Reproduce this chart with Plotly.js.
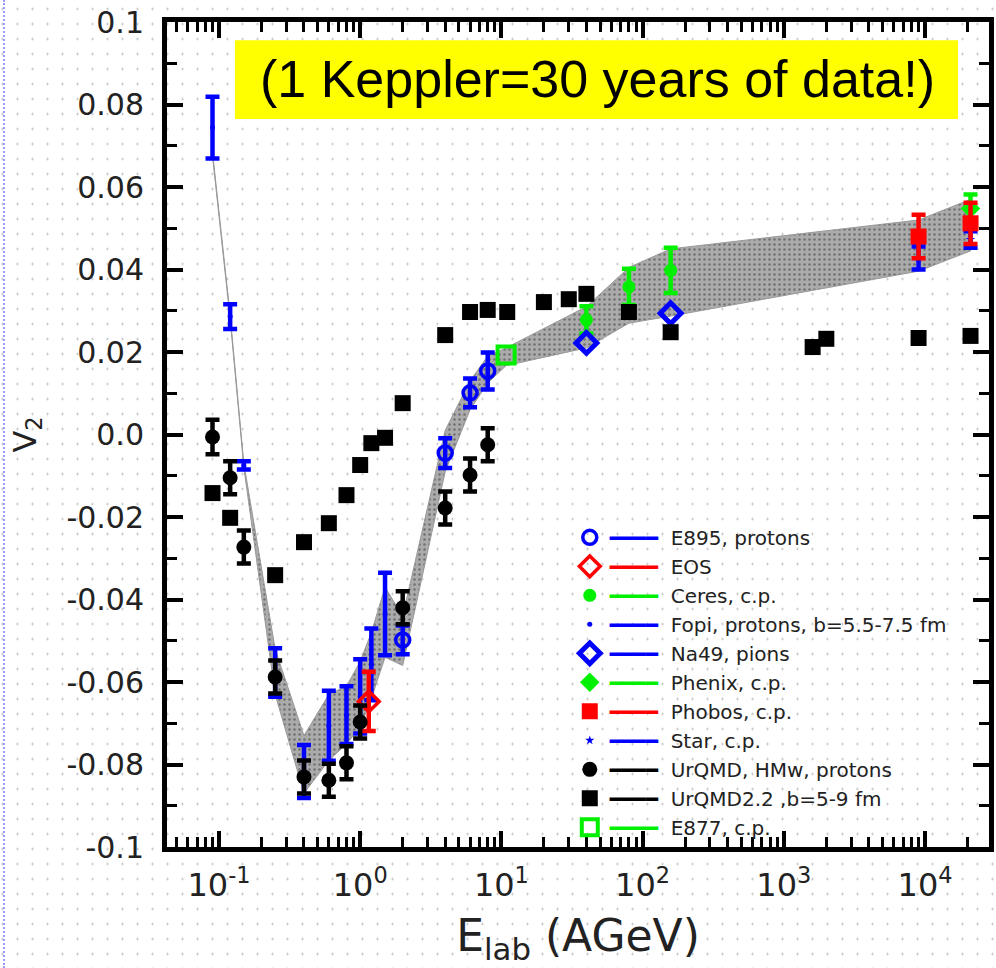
<!DOCTYPE html>
<html>
<head>
<meta charset="utf-8">
<script src="https://cdn.plot.ly/plotly-3.0.1.min.js"></script>
<style>
  html, body { margin:0; padding:0; width:996px; height:968px; overflow:hidden; background:#fff; }
  body {
    background-image: radial-gradient(circle, #c4c4c4 0.9px, rgba(255,255,255,0) 1.3px);
    background-size: 15px 15px;
    background-position: -5px 1.5px;
  }
  #edge { position:absolute; left:3px; top:0; width:0; height:968px; border-left:2px dotted #9a9aff; }
  #chart { position:absolute; left:0; top:0; width:996px; height:968px; }
</style>
</head>
<body>
<div id="edge"></div>
<div id="chart"></div>
<script>
// ---------------- data ----------------
// Gray band (upper and lower edge)
const band_x  = [0.09, 0.12, 0.15, 0.25, 0.4, 0.6, 0.8, 1.0, 1.2, 1.5, 2.0, 4.0, 6.0, 8.0, 10.8, 40, 80, 158, 9000, 21000];
const band_hi = [0.0685, 0.029, -0.007, -0.052, -0.073, -0.063, -0.061, -0.055, -0.048, -0.037, -0.044, 0.001, 0.013, 0.019, 0.021, 0.031, 0.0405, 0.045, 0.052, 0.057];
const band_lo = [0.0675, 0.028, -0.008, -0.063, -0.087, -0.079, -0.075, -0.071, -0.064, -0.054, -0.056, -0.009, 0.006, 0.0125, 0.0167, 0.021, 0.027, 0.0287, 0.0396, 0.0445];

// E895, protons
const e895_x = [2.0, 4.0, 6.0, 8.0];
const e895_y = [-0.0498, -0.0045, 0.0101, 0.0154];
const e895_err = [0.0035, 0.0036, 0.0035, 0.0045];
// EOS
const eos_x = [1.15];
const eos_y = [-0.0647];
const eos_err = [0.0072];
// Ceres, c.p.
const ceres_x = [40, 80, 158];
const ceres_y = [0.0278, 0.0358, 0.0398];
const ceres_err = [0.0033, 0.0044, 0.0055];
// Fopi, protons, b=5.5-7.5 fm
const fopi_x = [0.09, 0.12, 0.15, 0.25, 0.4, 0.6, 0.8, 1.0, 1.2, 1.5];
const fopi_y = [0.0744, 0.0286, -0.0075, -0.0577, -0.0817, -0.0706, -0.068, -0.0635, -0.0557, -0.0435];
const fopi_err = [0.0075, 0.003, 0.001, 0.0059, 0.0064, 0.0085, 0.007, 0.009, 0.0087, 0.01];
// Na49, pions
const na49_x = [40, 158];
const na49_y = [0.0222, 0.0294];
// Phenix, c.p.
const phenix_x = [21000];
const phenix_y = [0.0548];
const phenix_err = [0.0034];
// Phobos, c.p.
const phobos_x = [9000, 21000];
const phobos_y = [0.048, 0.0512];
const phobos_err = [0.0053, 0.005];
// Star, c.p.
const star_x = [9000, 21000];
const star_y = [0.0428, 0.0473];
const star_err = [0.0028, 0.002];
// UrQMD, HMw, protons
const hmw_x = [0.09, 0.12, 0.15, 0.25, 0.4, 0.6, 0.8, 1.0, 2.0, 4.0, 6.0, 8.0];
const hmw_y = [-0.0006, -0.0105, -0.0273, -0.0588, -0.083, -0.0838, -0.0796, -0.0697, -0.042, -0.0178, -0.0098, -0.0025];
const hmw_err = [0.0042, 0.004, 0.004, 0.004, 0.004, 0.004, 0.004, 0.004, 0.004, 0.004, 0.004, 0.004];
// UrQMD2.2, b=5-9 fm
const u22_x = [0.09, 0.12, 0.25, 0.4, 0.6, 0.8, 1.0, 1.2, 1.5, 2.0, 4.0, 6.0, 8.0, 11, 20, 30, 40, 80, 158, 1600, 2000, 9000, 21000];
const u22_y = [-0.0142, -0.0202, -0.0341, -0.0261, -0.0215, -0.0147, -0.0074, -0.0021, -0.0008, 0.0076, 0.0241, 0.0297, 0.0302, 0.0297, 0.0321, 0.0328, 0.0341, 0.0297, 0.0248, 0.0212, 0.0232, 0.0234, 0.0239];
// E877, c.p.
const e877_x = [10.8];
const e877_y = [0.0193];

// tick labels
const yTickNums = ['0.1', '0.08', '0.06', '0.04', '0.02'];
const xTickNums = ['0.1', '1', '10', '100', '1000', '10,000'];
const xTickText = ['10<sup>-1</sup>', '10<sup>0</sup>', '10<sup>1</sup>', '10<sup>2</sup>', '10<sup>3</sup>', '10<sup>4</sup>'];
const xDecades = [0.01, 0.1, 1, 10, 100, 1000, 10000];
const xMinorMult = [2, 3, 4, 5, 6, 7, 8, 9];

// ---------------- styles ----------------
const BLUE = '#0000ff', RED = '#ff0000', GREEN = '#00f000', BLACK = '#000000';
const NB = '\u00a0';
function lbl(color, text) {
  return '<span style="color:' + color + '">━━━━</span>' + NB + NB + text;
}
function eb(arr, color) {
  return {type: 'data', array: arr, visible: true, color: color, thickness: 4.5, width: 7};
}
const xMinorVals = [];
xDecades.forEach(d => xMinorMult.forEach(m => xMinorVals.push(m * d)));

// label aliases (Plotly's default number text -> reference text)
const yAlias = {'0': '0.0'};
yTickNums.forEach(t => {
  yAlias['\u2212' + t] = '-' + t;
});
const xAlias = {'10000': '10<sup>4</sup>'};
xTickNums.forEach((t, i) => { xAlias[t] = xTickText[i]; });

const traces = [];
traces.push({
  x: band_x.concat(band_x.slice().reverse()),
  y: band_hi.concat(band_lo.slice().reverse()),
  mode: 'lines', fill: 'toself',
  line: {color: '#999999', width: 1},
  fillcolor: '#ababab',
  fillpattern: {shape: '.', bgcolor: '#ababab', fgcolor: '#707070', size: 5, solidity: 0.2},
  showlegend: false, hoverinfo: 'skip'
});
traces.push({x: fopi_x, y: fopi_y, name: lbl(BLUE, 'Fopi, protons, b=5.5-7.5 fm'), legendrank: 4,
  mode: 'markers', marker: {symbol: 'circle', size: 5, color: BLUE}, error_y: eb(fopi_err, BLUE)});
traces.push({x: e895_x, y: e895_y, name: lbl(BLUE, 'E895, protons'), legendrank: 1,
  mode: 'markers', marker: {symbol: 'circle-open', size: 14, color: BLUE, line: {width: 3.5, color: BLUE}}, error_y: eb(e895_err, BLUE)});
traces.push({x: eos_x, y: eos_y, name: lbl(RED, 'EOS'), legendrank: 2,
  mode: 'markers', marker: {symbol: 'diamond-open', size: 16, color: RED, line: {width: 3.5, color: RED}}, error_y: eb(eos_err, RED)});
traces.push({x: ceres_x, y: ceres_y, name: lbl(GREEN, 'Ceres, c.p.'), legendrank: 3,
  mode: 'markers', marker: {symbol: 'circle', size: 13, color: GREEN}, error_y: eb(ceres_err, GREEN)});
traces.push({x: na49_x, y: na49_y, name: lbl(BLUE, 'Na49, pions'), legendrank: 5,
  mode: 'markers', marker: {symbol: 'diamond-open', size: 16, color: BLUE, line: {width: 5, color: BLUE}}});
traces.push({x: phenix_x, y: phenix_y, name: lbl(GREEN, 'Phenix, c.p.'), legendrank: 6,
  mode: 'markers', marker: {symbol: 'diamond', size: 15, color: GREEN}, error_y: eb(phenix_err, GREEN)});
traces.push({x: star_x, y: star_y, name: lbl(BLUE, 'Star, c.p.'), legendrank: 8,
  mode: 'markers', marker: {symbol: 'star', size: 7, color: BLUE}, error_y: eb(star_err, BLUE)});
traces.push({x: phobos_x, y: phobos_y, name: lbl(RED, 'Phobos, c.p.'), legendrank: 7,
  mode: 'markers', marker: {symbol: 'square', size: 16, color: RED}, error_y: eb(phobos_err, RED)});
traces.push({x: e877_x, y: e877_y, name: lbl(GREEN, 'E877, c.p.'), legendrank: 11,
  mode: 'markers', marker: {symbol: 'square-open', size: 17, color: GREEN, line: {width: 4, color: GREEN}}});
traces.push({x: hmw_x, y: hmw_y, name: lbl(BLACK, 'UrQMD, HMw, protons'), legendrank: 9,
  mode: 'markers', marker: {symbol: 'circle', size: 15, color: BLACK}, error_y: eb(hmw_err, BLACK)});
traces.push({x: u22_x, y: u22_y, name: lbl(BLACK, 'UrQMD2.2 ,b=5-9 fm'), legendrank: 10,
  mode: 'markers', marker: {symbol: 'square', size: 16, color: BLACK}});

const FONT = 'DejaVu Sans, Lato, sans-serif';
const layout = {
  width: 996, height: 968,
  margin: {l: 167, r: 7, t: 22, b: 121, pad: 0},
  paper_bgcolor: 'rgba(0,0,0,0)',
  plot_bgcolor: 'rgba(0,0,0,0)',
  font: {family: FONT, color: '#111'},
  showlegend: true,
  legend: {
    x: 0.49, y: 0.399, xanchor: 'left', yanchor: 'top',
    bgcolor: 'rgba(0,0,0,0)', borderwidth: 0,
    font: {family: FONT, size: 20, color: '#222'},
    traceorder: 'normal', itemsizing: 'trace', tracegroupgap: 0
  },
  xaxis: {
    type: 'log', range: [-1.368, 4.453],
    tickmode: 'linear', tick0: 0, dtick: 1, exponentformat: 'none',
    labelalias: xAlias,
    ticks: 'inside', ticklen: 16, tickwidth: 4, tickcolor: '#000',
    minor: {tickmode: 'array', tickvals: xMinorVals, ticks: 'inside', ticklen: 10, tickwidth: 3, tickcolor: '#000'},
    showline: true, linewidth: 5, linecolor: '#000', mirror: 'ticks',
    showgrid: false, zeroline: false,
    tickfont: {family: FONT, size: 32, color: '#222'},
    ticklabelstandoff: 6,
    title: {text: 'E<sub>lab</sub> (AGeV)', font: {family: FONT, size: 44, color: '#222'}, standoff: 18}
  },
  yaxis: {
    range: [-0.1, 0.1],
    tickmode: 'linear', tick0: 0, dtick: 0.02, exponentformat: 'none',
    labelalias: yAlias,
    ticks: 'inside', ticklen: 16, tickwidth: 4, tickcolor: '#000',
    minor: {dtick: 0.01, ticks: 'inside', ticklen: 10, tickwidth: 3, tickcolor: '#000'},
    showline: true, linewidth: 5, linecolor: '#000', mirror: 'ticks',
    showgrid: false, zeroline: false,
    tickfont: {family: FONT, size: 30, color: '#222'},
    ticklabelstandoff: 12,
    title: {text: 'V<sub>2</sub>', font: {family: FONT, size: 32, color: '#222'}, standoff: 22}
  },
  shapes: [{
    type: 'rect', xref: 'paper', yref: 'paper',
    x0: 0.0827, x1: 0.9623, y0: 0.8824, y1: 0.978,
    fillcolor: '#ffff00', line: {width: 0}, layer: 'above'
  }],
  annotations: [{
    xref: 'paper', yref: 'paper', x: 0.524, y: 0.9315, xanchor: 'center', yanchor: 'middle',
    text: '(1 Keppler=30 years of data!)', showarrow: false,
    font: {family: 'Liberation Sans, Arial, sans-serif', size: 52, color: '#000'}
  }]
};

Plotly.newPlot('chart', traces, layout, {displayModeBar: false, staticPlot: true});
</script>
</body>
</html>
